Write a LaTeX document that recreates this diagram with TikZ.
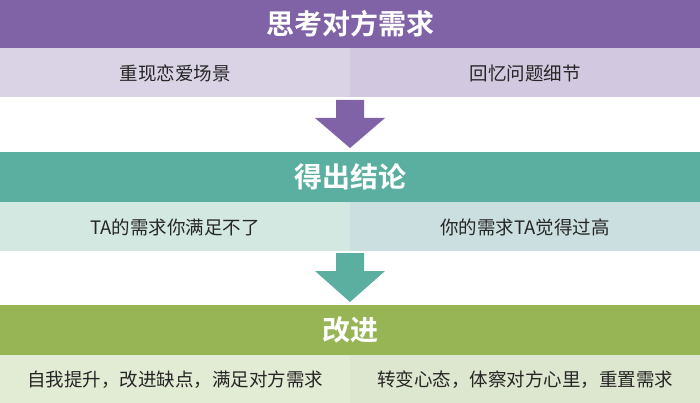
\documentclass[tikz,border=0pt]{standalone}
\usepackage{fontspec}
\setmainfont{Noto Sans CJK SC}
\newfontfamily\cjkb{Noto Sans CJK SC Bold}
\begin{document}
\begin{tikzpicture}[x=1pt,y=-1pt,
  hdr/.style={font=\cjkb\fontsize{28}{30}\selectfont,text=white},
  cell/.style={font=\fontsize{18.5}{20}\selectfont,text=black!85}]
\definecolor{pur}{HTML}{8062A6}
\definecolor{purL}{HTML}{DAD2E5}
\definecolor{purR}{HTML}{D2C8DF}
\definecolor{tea}{HTML}{5BAFA1}
\definecolor{teaL}{HTML}{D4E8E2}
\definecolor{teaR}{HTML}{CBDFE0}
\definecolor{grn}{HTML}{98B555}
\definecolor{grnL}{HTML}{E2EBD4}
\definecolor{grnR}{HTML}{DDE6CE}
\useasboundingbox (0,0) rectangle (700,403);
\fill[white] (0,0) rectangle (700,403);
% band 1
\fill[pur] (0,0) rectangle (700,48);
\fill[purL] (0,48) rectangle (350,97);
\fill[purR] (350,48) rectangle (700,97);
\node[hdr] (h1) at (350,24) {思考对方需求};
\node[cell] (c11) at (175,73) {重现恋爱场景};
\node[cell] (c12) at (525,73) {回忆问题细节};
\fill[pur] (336,100) -- (364,100) -- (364,118) -- (385,118) -- (350,148) -- (315,118) -- (336,118) -- cycle;
% band 2
\fill[tea] (0,152) rectangle (700,202);
\fill[teaL] (0,202) rectangle (350,251);
\fill[teaR] (350,202) rectangle (700,251);
\node[hdr] (h2) at (350,177) {得出结论};
\node[cell] (c21) at (175,227) {TA的需求你满足不了};
\node[cell] (c22) at (525,227) {你的需求TA觉得过高};
\fill[tea] (336,253) -- (364,253) -- (364,271) -- (385,271) -- (350,302) -- (315,271) -- (336,271) -- cycle;
% band 3
\fill[grn] (0,305) rectangle (700,355);
\fill[grnL] (0,355) rectangle (350,403);
\fill[grnR] (350,355) rectangle (700,403);
\node[hdr] (h3) at (350,330) {改进};
\node[cell] (c31) at (175,380) {自我提升，改进缺点，满足对方需求};
\node[cell] (c32) at (525,380) {转变心态，体察对方心里，重置需求};
\end{tikzpicture}
\end{document}
